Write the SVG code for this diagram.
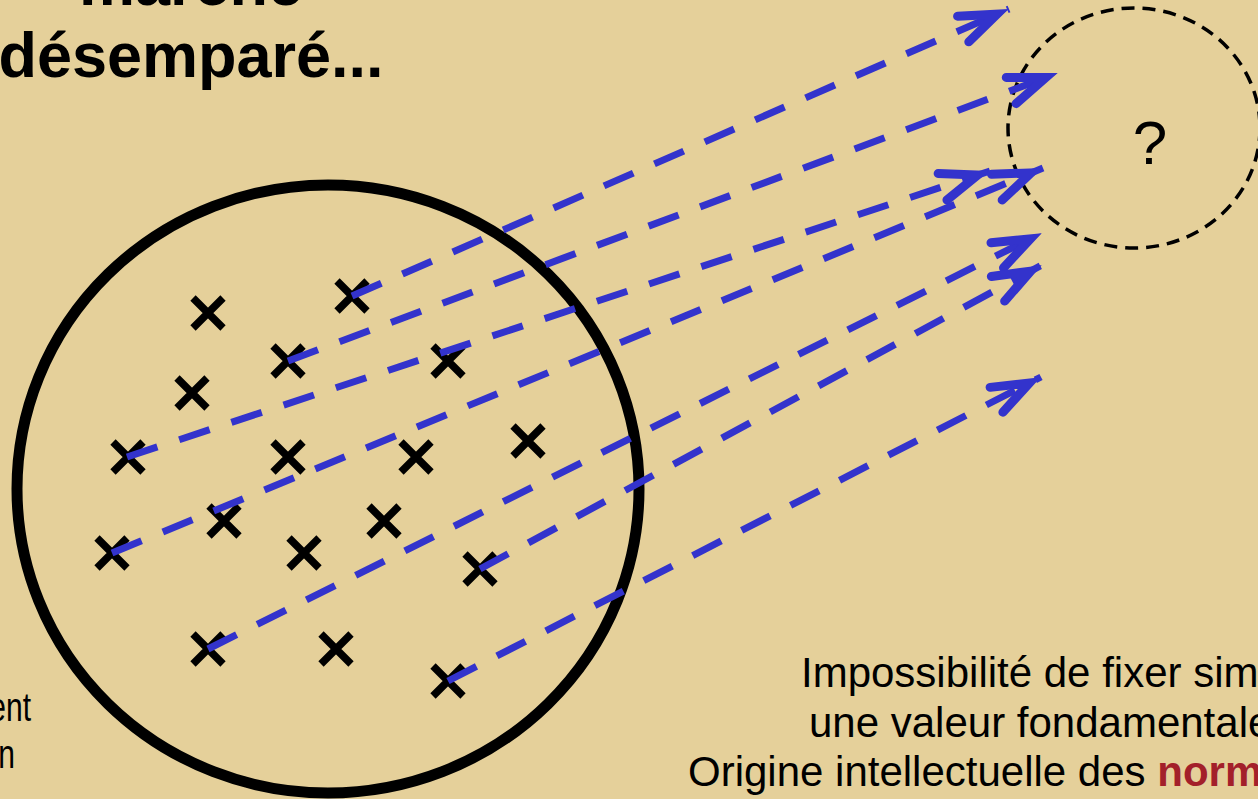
<svg xmlns="http://www.w3.org/2000/svg" xmlns:xlink="http://www.w3.org/1999/xlink" width="1258" height="799" viewBox="0 0 1258 799">
<style>
.title{font-family:"Liberation Sans",Arial,sans-serif;font-weight:bold;font-size:63px;fill:#000;text-anchor:middle}
.body{font-family:"Liberation Sans",Arial,sans-serif;font-size:42px;fill:#000}
.red{font-weight:bold;fill:#A3202A}
.side{font-family:"Liberation Sans",Arial,sans-serif;font-size:40px;fill:#000}
.cross{fill:none;stroke:#000;stroke-width:7.5}
.conn{fill:none;stroke:#3333CC;stroke-width:7;stroke-dasharray:32 23;marker-end:url(#ah)}
</style>
<defs>
<marker id="ah" markerUnits="userSpaceOnUse" orient="auto" markerWidth="90" markerHeight="60" viewBox="-70 -30 90 60" refX="0" refY="0" overflow="visible">
<path d="M-1,0 L-32,-9 L-24,0 L-32,9 Z" fill="#3333CC" stroke="none"/>
<path d="M-50,-14 L-13,0 L-50,14" fill="none" stroke="#3333CC" stroke-width="9" stroke-dasharray="none" stroke-linecap="round" stroke-linejoin="miter" stroke-miterlimit="10"/>
</marker>
<path id="x" class="cross" d="M-15,-15 L15,15 M15,-15 L-15,15"/>
</defs>
<rect width="1258" height="799" fill="#E5D09A"/>

<g id="title">
<text class="title" x="191" y="5">marché</text>
<text class="title" x="191" y="77">désemparé...</text>
</g>

<g id="population">
<ellipse cx="328" cy="489" rx="311" ry="304" fill="none" stroke="#000" stroke-width="11"/>
</g>

<g id="points">
<g id="p1"><use xlink:href="#x" x="208" y="313"/></g>
<g id="p2"><use xlink:href="#x" x="352" y="296"/></g>
<g id="p3"><use xlink:href="#x" x="288" y="361"/></g>
<g id="p4"><use xlink:href="#x" x="192" y="393"/></g>
<g id="p5"><use xlink:href="#x" x="448" y="361"/></g>
<g id="p6"><use xlink:href="#x" x="128" y="457"/></g>
<g id="p7"><use xlink:href="#x" x="288" y="457"/></g>
<g id="p8"><use xlink:href="#x" x="416" y="457"/></g>
<g id="p9"><use xlink:href="#x" x="528" y="441"/></g>
<g id="p10"><use xlink:href="#x" x="224" y="521"/></g>
<g id="p11"><use xlink:href="#x" x="384" y="521"/></g>
<g id="p12"><use xlink:href="#x" x="112" y="553"/></g>
<g id="p13"><use xlink:href="#x" x="304" y="553"/></g>
<g id="p14"><use xlink:href="#x" x="480" y="569"/></g>
<g id="p15"><use xlink:href="#x" x="208" y="649"/></g>
<g id="p16"><use xlink:href="#x" x="336" y="649"/></g>
<g id="p17"><use xlink:href="#x" x="448" y="681"/></g>
</g>

<g id="unknown">
<ellipse cx="1134" cy="128" rx="126" ry="120" fill="none" stroke="#000" stroke-width="3.5" stroke-dasharray="13 8"/>
<text x="1150" y="164" font-family="'Liberation Sans',Arial,sans-serif" font-size="62" text-anchor="middle" fill="#000">?</text>
</g>

<g id="connectors">
<path class="conn" d="M352,296 L1009,9"/>
<path class="conn" d="M288,361 L1058,73"/>
<path class="conn" d="M127,457 L990,171"/>
<path class="conn" d="M112,553 L1043,168"/>
<path class="conn" d="M208,649 L1042,233"/>
<path class="conn" d="M480,569 L1042,265"/>
<path class="conn" d="M448,681 L1041,377"/>
</g>

<g id="caption">
<text class="body" x="801" y="687">Impossibilité de fixer sim</text>
<text class="body" x="809" y="737">une valeur fondamentale</text>
<text class="body" x="688" y="786">Origine intellectuelle des <tspan class="red">norm</tspan></text>
</g>

<g id="side-note">
<text class="side" transform="translate(-10.7,721) scale(0.75,1)">ent</text>
<text class="side" transform="translate(-1.7,768) scale(0.75,1)">n</text>
</g>
</svg>
